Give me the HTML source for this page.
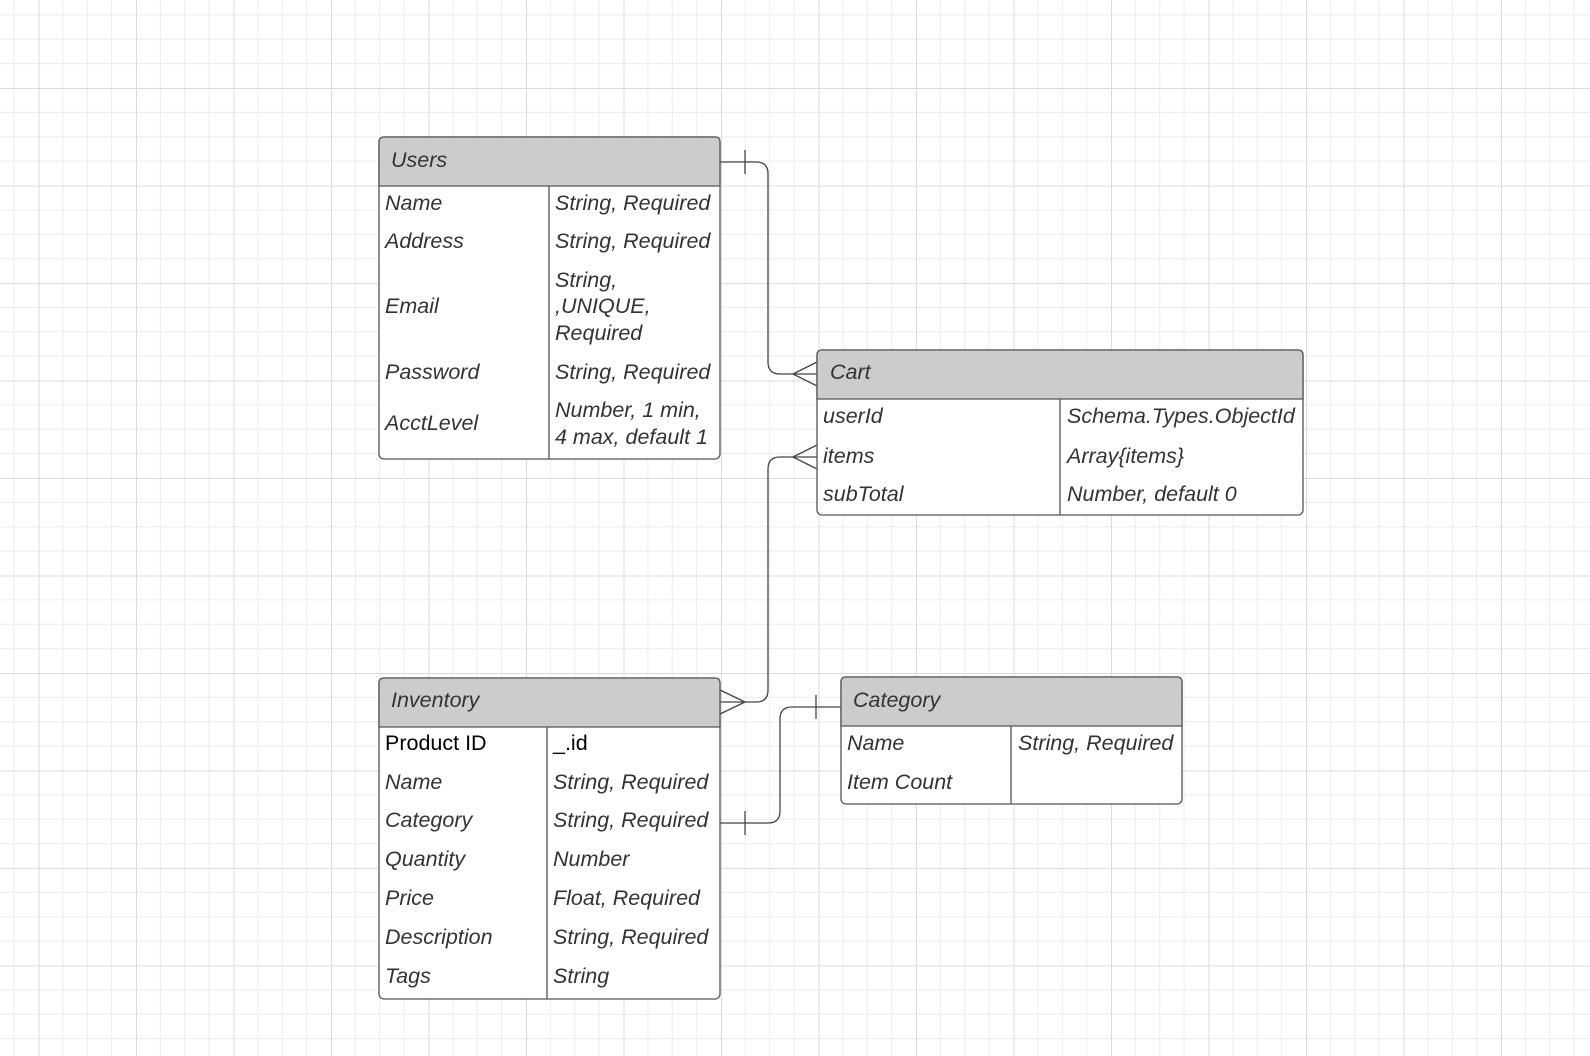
<!DOCTYPE html>
<html><head><meta charset="utf-8"><style>
html,body{margin:0;padding:0;background:#fff;}
svg{display:block;}
text{font-family:"Liberation Sans",sans-serif;font-style:italic;font-size:21.5px;fill:#333;}
</style></head><body>
<svg width="1590" height="1056" viewBox="0 0 1590 1056" xmlns="http://www.w3.org/2000/svg">
<defs>
<pattern id="g" x="38.5" y="88" width="97.5" height="97.5" patternUnits="userSpaceOnUse">
<path d="M24.4 0V97.5M48.75 0V97.5M73.1 0V97.5M0 24.4H97.5M0 48.75H97.5M0 73.1H97.5" stroke="#ececec" stroke-width="1"/>
<path d="M0.5 0V97.5M0 0.5H97.5" stroke="#dcdcdc" stroke-width="1"/>
</pattern>
</defs>
<rect width="1590" height="1056" fill="url(#g)"/>
<g fill="none" stroke="#444" stroke-width="1.3">
<path d="M720 162H756Q768 162 768 174V362Q768 374 780 374H817"/>
<path d="M745 150V174"/>
<path d="M793 374L817 362M793 374L817 386"/>
<path d="M817 457H780Q768 457 768 469V690Q768 702 756 702H720"/>
<path d="M793 457L817 445M793 457L817 469"/>
<path d="M745 702L720 690M745 702L720 714"/>
<path d="M720 823H768Q780 823 780 811V719Q780 707 792 707H841"/>
<path d="M745 811V835"/>
<path d="M816 695V719"/>
</g>
<g stroke="#555" stroke-width="1.3">
<rect x="379" y="137" width="341" height="322" rx="5" fill="#fff"/>
<path d="M384 137H715Q720 137 720 142V186H379V142Q379 137 384 137Z" fill="#ccc"/>
<path d="M549 186V459"/>
<rect x="817" y="350" width="486" height="165" rx="5" fill="#fff"/>
<path d="M822 350H1298Q1303 350 1303 355V399H817V355Q817 350 822 350Z" fill="#ccc"/>
<path d="M1060 399V515"/>
<rect x="379" y="678" width="341" height="321" rx="5" fill="#fff"/>
<path d="M384 678H715Q720 678 720 683V727H379V683Q379 678 384 678Z" fill="#ccc"/>
<path d="M547 727V999"/>
<rect x="841" y="677" width="341" height="127" rx="5" fill="#fff"/>
<path d="M846 677H1177Q1182 677 1182 682V726H841V682Q841 677 846 677Z" fill="#ccc"/>
<path d="M1011 726V804"/>
</g>
<g dominant-baseline="central">
<text x="391" y="160">Users</text>
<text x="385" y="203">Name</text><text x="555" y="203">String, Required</text>
<text x="385" y="241">Address</text><text x="555" y="241">String, Required</text>
<text x="385" y="306">Email</text><text x="555" y="280">String,</text><text x="555" y="306">,UNIQUE,</text><text x="555" y="333">Required</text>
<text x="385" y="372">Password</text><text x="555" y="372">String, Required</text>
<text x="385" y="423">AcctLevel</text><text x="555" y="410">Number, 1 min,</text><text x="555" y="437">4 max, default 1</text>

<text x="830" y="372">Cart</text>
<text x="823" y="416">userId</text><text x="1067" y="416">Schema.Types.ObjectId</text>
<text x="823" y="456">items</text><text x="1067" y="456">Array{items}</text>
<text x="823" y="494">subTotal</text><text x="1067" y="494">Number, default 0</text>

<text x="391" y="700">Inventory</text>
<text x="385" y="743" style="font-style:normal;fill:#000">Product ID</text><text x="553" y="743" style="font-style:normal;fill:#000">_.id</text>
<text x="385" y="782">Name</text><text x="553" y="782">String, Required</text>
<text x="385" y="820">Category</text><text x="553" y="820">String, Required</text>
<text x="385" y="859">Quantity</text><text x="553" y="859">Number</text>
<text x="385" y="898">Price</text><text x="553" y="898">Float, Required</text>
<text x="385" y="937">Description</text><text x="553" y="937">String, Required</text>
<text x="385" y="976">Tags</text><text x="553" y="976">String</text>

<text x="853" y="700">Category</text>
<text x="847" y="743">Name</text><text x="1018" y="743">String, Required</text>
<text x="847" y="782">Item Count</text>
</g>
</svg>
</body></html>
